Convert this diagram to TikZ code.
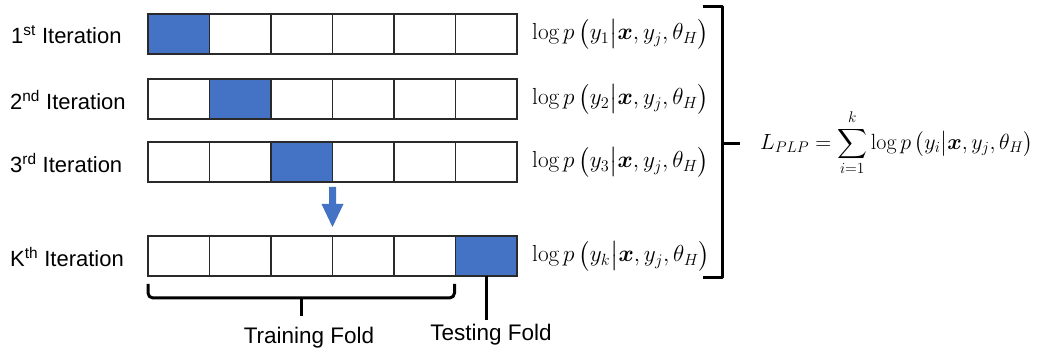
\RequirePackage{fix-cm}
\documentclass[tikz,border=0pt]{standalone}
\usepackage{amsmath}
\usepackage{fontspec}
\setsansfont{Liberation Sans}
\usetikzlibrary{calc}
\definecolor{foldblue}{HTML}{4472C4}
\definecolor{cellline}{HTML}{2A2A2A}
\begin{document}
\begin{tikzpicture}[x=1pt,y=-1pt,
  cell/.style={draw=cellline, line width=1.3pt, minimum width=61.5pt, minimum height=40pt,
               inner sep=0pt, outer sep=0pt, anchor=north west},
  iterlabel/.style={font=\sffamily\fontsize{22}{26}\selectfont, anchor=west, inner sep=0pt},
  loglik/.style={font=\fontsize{23.2}{27}\selectfont, anchor=west, inner sep=0pt},
  foldlabel/.style={font=\sffamily\fontsize{22.5}{26}\selectfont, anchor=base, inner sep=0pt},
  brace/.style={line width=3pt, line join=round}
]
\useasboundingbox (0,0) rectangle (1054,352);

% the four folds rows: name / top edge / index of the testing fold
\foreach \r/\top/\t in {1/14/1, 2/79/2, 3/142/3, k/236/6} {
  \foreach \i in {1,...,6} {
    \ifnum\i=\t \def\fc{foldblue}\else\def\fc{white}\fi
    \node[cell, fill=\fc] (c\r-\i) at ({148+61.5*(\i-1)},\top) {};
  }
}

% iteration labels
\node[iterlabel] (l1) at (11,35) {1\textsuperscript{st} Iteration};
\node[iterlabel] (l2) at (10,100) {2\textsuperscript{nd} Iteration};
\node[iterlabel] (l3) at (10,163) {3\textsuperscript{rd} Iteration};
\node[iterlabel] (lk) at (10,257) {K\textsuperscript{th} Iteration};

% per-iteration log-likelihood terms
\node[loglik] (f1) at (532,34) {$\log p\,\bigl(y_1\big|\boldsymbol{x},y_j,\theta_H\bigr)$};
\node[loglik] (f2) at (532,99) {$\log p\,\bigl(y_2\big|\boldsymbol{x},y_j,\theta_H\bigr)$};
\node[loglik] (f3) at (532,162) {$\log p\,\bigl(y_3\big|\boldsymbol{x},y_j,\theta_H\bigr)$};
\node[loglik] (fk) at (532,256) {$\log p\,\bigl(y_k\big|\boldsymbol{x},y_j,\theta_H\bigr)$};

% summed pseudo-likelihood
\node[loglik, font=\fontsize{22}{26}\selectfont] (lplp) at (760,143)
  {$\displaystyle L_{PLP} = \sum_{i=1}^{k}\log p\,\bigl(y_i\big|\boldsymbol{x},y_j,\theta_H\bigr)$};

% right brace gathering the terms
\draw[brace] (703,7) -- (722,7) -- (722,278) -- (703,278);
\draw[brace] (722,144) -- (740,144);

% down arrow between the 3rd and K-th rows
\coordinate (atop) at ($(c3-3.south east)+(0,5)$);
\fill[foldblue] (atop) ++(-3.5,0) -- ++(7,0) -- ++(0,17) -- ++(7.5,0) -- ++(-11,23)
  -- ++(-11,-23) -- ++(7.5,0) -- cycle;

% training fold brace
\draw[brace, rounded corners=5pt] ($(ck-1.south west)+(0,8)$) -- ++(0,14)
  -| ($(ck-5.south east)+(-1,8)$);
\coordinate (tbmid) at ($(ck-1.south west)!0.5!(ck-5.south east)+(0,22)$);
\draw[brace] (tbmid) -- ++(0,18);
\node[foldlabel] (train) at (309,343) {Training Fold};

% testing fold pointer
\draw[line width=3pt] (ck-6.south) -- ++(0,44);
\node[foldlabel] (test) at (491,341) {Testing Fold};
\end{tikzpicture}
\end{document}
